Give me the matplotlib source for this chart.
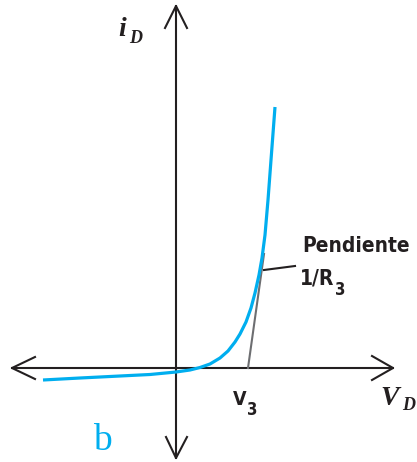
import matplotlib
matplotlib.use("Agg")
import matplotlib.pyplot as plt

# curva del diodo (i_D vs V_D), origen en el cruce de los ejes
v_diodo = [-133, -96, -56, -26, 0, 14, 24, 34, 44, 52, 59, 64, 70, 75, 79, 83, 86, 89, 92, 95, 99]
i_diodo = [-12, -10, -8, -6.5, -4, -2, 0.5, 4, 10, 17, 26, 34, 46, 60, 75, 93, 110, 133, 168, 208, 261]

# recta tangente: corte con el eje (V3) y punto de contacto
v_tangente = [72, 88]
i_tangente = [0, 114]
# linea de la etiqueta
v_etiqueta = [88, 119]
i_etiqueta = [98, 102]

negro = "#231f20"
azul = "#00aeef"
gris = "#6d6e71"

fig = plt.figure(figsize=(4.17, 4.62), dpi=100)
ax = fig.add_axes([0, 0, 1, 1])
ax.set_xlim(-176, 241)
ax.set_ylim(-94, 368)
ax.axis("off")

# ejes con puntas abiertas
ax.plot([-164, 217], [0, 0], color=negro, lw=1.5)
ax.plot([0, 0], [-90, 362], color=negro, lw=1.5)
ax.plot([196, 217, 196], [12, 0, -12], color=negro, lw=1.5)
ax.plot([-141, -164, -141], [11, 0, -11], color=negro, lw=1.5)
ax.plot([-11, 0, 11], [340, 362, 340], color=negro, lw=1.5)
ax.plot([-10, 0, 11], [-69, -90, -69], color=negro, lw=1.5)

ax.plot(v_tangente, i_tangente, color=gris, lw=1.5)
ax.plot(v_etiqueta, i_etiqueta, color=negro, lw=1.5)
ax.plot(v_diodo, i_diodo, color=azul, lw=2.3, solid_capstyle="butt")

serif = dict(family="Liberation Serif", style="italic", weight="bold", color=negro)
sans = dict(family="DejaVu Sans", stretch="condensed", weight="bold", color=negro)

ax.text(-58, 332, "i", fontsize=20, **serif)
ax.text(-47, 325, "D", fontsize=13, **serif)
ax.text(204, -37, "V", fontsize=20, **serif)
ax.text(226, -42, "D", fontsize=13, **serif)

ax.text(-83, -82, "b", fontsize=27, family="Liberation Serif", color=azul)

ax.text(126, 116, "Pendiente", fontsize=15, **sans)
r = ax.text(124, 83, "1/R", fontsize=15, **sans)
ax.annotate("3", xy=(1, 0), xycoords=r, xytext=(0.5, -4), textcoords="offset points",
            fontsize=12, ha="left", va="baseline", **sans)
v3 = ax.text(57, -37, "V", fontsize=14, **sans)
ax.annotate("3", xy=(1, 0), xycoords=v3, xytext=(0.5, -4), textcoords="offset points",
            fontsize=12, ha="left", va="baseline", **sans)

fig.savefig("out.png", dpi=100)
